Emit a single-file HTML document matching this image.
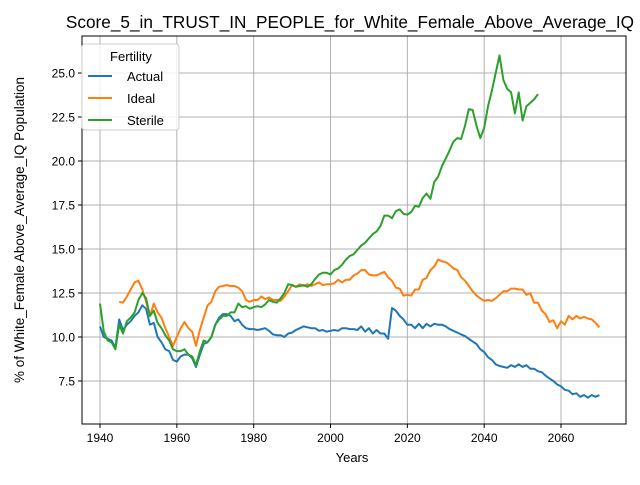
<!DOCTYPE html>
<html><head><meta charset="utf-8"><style>
body{margin:0;background:#fff;}
svg text{font-family:"Liberation Sans","DejaVu Sans",sans-serif;fill:#000;}
</style></head><body>
<svg id="chart" width="640" height="480" xmlns="http://www.w3.org/2000/svg">
<rect width="640" height="480" fill="#fff"/>
<text x="350" y="28" font-size="17.2" text-anchor="middle">Score_5_in_TRUST_IN_PEOPLE_for_White_Female_Above_Average_IQ</text>
<g id="grid"></g><g id="series"></g><g id="axes"></g>
<text x="352" y="462" font-size="13" text-anchor="middle">Years</text>
<text transform="translate(24,230) rotate(-90)" font-size="13.5" text-anchor="middle">% of White_Female Above_Average_IQ Population</text>
<g id="legend">
<rect x="82" y="44" width="97" height="86" rx="3" fill="#fff" fill-opacity="0.8" stroke="#ccc"/>
<text x="131" y="61" font-size="13" text-anchor="middle">Fertility</text>
<line x1="88" y1="76" x2="112" y2="76" stroke="#1f77b4" stroke-width="2"/><text x="127" y="81" font-size="13">Actual</text>
<line x1="88" y1="98" x2="112" y2="98" stroke="#ff7f0e" stroke-width="2"/><text x="127" y="103" font-size="13">Ideal</text>
<line x1="88" y1="120" x2="112" y2="120" stroke="#2ca02c" stroke-width="2"/><text x="127" y="125" font-size="13">Sterile</text>
</g>
</svg>
<script>
const actualStart = 1940;
const actualValues = [10.6,10.0,9.9,9.8,9.4,11.0,10.4,10.7,10.9,11.2,11.4,11.8,11.6,10.7,10.8,10.0,9.7,9.3,9.2,8.7,8.6,8.9,9.0,9.0,8.8,8.3,9.0,9.6,9.7,10.0,10.7,11.1,11.3,11.3,11.2,10.9,11.0,10.7,10.5,10.45,10.45,10.4,10.45,10.5,10.35,10.15,10.1,10.1,10.0,10.2,10.25,10.4,10.5,10.6,10.55,10.5,10.5,10.35,10.4,10.3,10.35,10.4,10.35,10.5,10.5,10.45,10.45,10.4,10.6,10.3,10.5,10.2,10.4,10.2,10.2,9.9,11.65,11.5,11.2,11.0,10.7,10.7,10.5,10.75,10.5,10.75,10.6,10.75,10.7,10.7,10.6,10.45,10.35,10.25,10.15,10.05,9.9,9.75,9.6,9.3,9.15,8.85,8.7,8.45,8.35,8.3,8.25,8.4,8.3,8.45,8.3,8.4,8.2,8.2,8.05,8.0,7.8,7.65,7.5,7.3,7.2,7.0,6.95,6.75,6.8,6.6,6.7,6.55,6.7,6.6,6.7];
const idealStart = 1945;
const idealValues = [12.0,11.95,12.3,12.7,13.1,13.2,12.7,12.0,11.2,11.9,11.4,11.1,10.5,10.0,9.5,10.0,10.5,10.85,10.5,10.3,9.5,10.4,11.1,11.8,12.0,12.6,12.85,12.9,12.95,12.9,12.9,12.8,12.6,12.1,12.0,12.1,12.1,12.3,12.15,12.25,12.1,12.1,12.05,12.3,12.6,12.95,12.85,13.0,12.9,13.0,12.9,13.0,13.1,12.95,13.0,13.0,13.05,13.25,13.1,13.25,13.25,13.5,13.6,13.8,13.8,13.55,13.5,13.5,13.6,13.7,13.4,13.2,12.8,12.75,12.35,12.4,12.35,12.7,12.7,13.25,13.35,13.8,14.0,14.4,14.3,14.25,14.1,13.9,13.8,13.4,13.2,12.9,12.6,12.35,12.2,12.05,12.1,12.05,12.2,12.4,12.6,12.6,12.75,12.75,12.7,12.7,12.4,12.5,11.95,11.95,11.5,11.3,10.85,10.95,10.5,10.9,10.7,11.2,11.0,11.2,11.05,11.15,11.05,11.0,10.8,10.55];
const sterileStart = 1940;
const sterileValues = [11.9,10.3,9.8,9.7,9.3,10.7,10.2,10.9,11.1,11.4,12.1,12.5,12.2,11.2,11.5,10.8,10.5,10.1,9.8,9.3,9.2,9.2,9.3,9.0,8.9,8.4,9.2,9.8,9.7,10.0,10.7,11.0,11.2,11.2,11.4,11.4,11.9,11.7,11.75,11.6,11.7,11.75,11.7,11.85,12.1,12.0,11.95,12.2,12.5,13.0,12.95,12.85,12.9,12.95,12.85,13.0,13.3,13.55,13.65,13.65,13.55,13.8,13.9,14.1,14.4,14.6,14.7,14.95,15.2,15.35,15.6,15.85,16.0,16.3,16.9,16.9,16.75,17.15,17.25,17.0,16.95,17.1,17.45,17.4,17.9,18.15,17.85,18.8,19.1,19.7,20.15,20.6,21.1,21.3,21.25,22.0,22.95,22.9,22.0,21.3,21.9,23.1,24.0,25.0,26.0,24.6,24.1,23.9,22.7,23.9,22.3,23.1,23.3,23.5,23.8];
const xTicks = [1940,1960,1980,2000,2020,2040,2060];
const yTicks = [7.5,10.0,12.5,15.0,17.5,20.0,22.5,25.0];

const L=82,R=626,T=36,B=424;
const xs = y => 100 + (y-1940)*(461/120);
const ys = v => 381 - (v-7.5)*(308/17.5);
const NS="http://www.w3.org/2000/svg";
function mk(tag, attrs, parent){const e=document.createElementNS(NS,tag);for(const k in attrs)e.setAttribute(k,attrs[k]);parent.appendChild(e);return e;}
const grid=document.getElementById('grid'), axes=document.getElementById('axes'), ser=document.getElementById('series');
xTicks.forEach(t=>{
  const x=xs(t);
  const g=mk('line',{x1:x,x2:x,y1:T,y2:B,stroke:'#b0b0b0','stroke-width':1},grid);
  
  
  mk('line',{x1:x,x2:x,y1:B,y2:B+4,stroke:'#000'},axes);
  const tx=mk('text',{x:x,y:B+18,'font-size':12,'text-anchor':'middle'},axes);
  tx.textContent=t;
  
  
});
yTicks.forEach(t=>{
  const y=ys(t);
  const g=mk('line',{x1:L,x2:R,y1:y,y2:y,stroke:'#b0b0b0','stroke-width':1},grid);
  
  
  mk('line',{x1:L-4,x2:L,y1:y,y2:y,stroke:'#000'},axes);
  const tx=mk('text',{x:L-7,y:y+4.5,'font-size':12,'text-anchor':'end'},axes);
  tx.textContent=t.toFixed(1);
  
  
});
const frame=mk('rect',{x:L,y:T,width:R-L,height:B-T,fill:'none',stroke:'#000','stroke-width':1},axes);


function line(start, vals, color, name){
  const d=vals.map((v,i)=>(i?'L':'M')+xs(start+i).toFixed(1)+','+ys(v).toFixed(1)).join('');
  const p=mk('path',{d:d,fill:'none',stroke:color,'stroke-width':2,'stroke-linejoin':'round'},ser);
  
  
}
line(actualStart,actualValues,'#1f77b4','actual-line');
line(idealStart,idealValues,'#ff7f0e','ideal-line');
line(sterileStart,sterileValues,'#2ca02c','sterile-line');
</script>
</body></html>
